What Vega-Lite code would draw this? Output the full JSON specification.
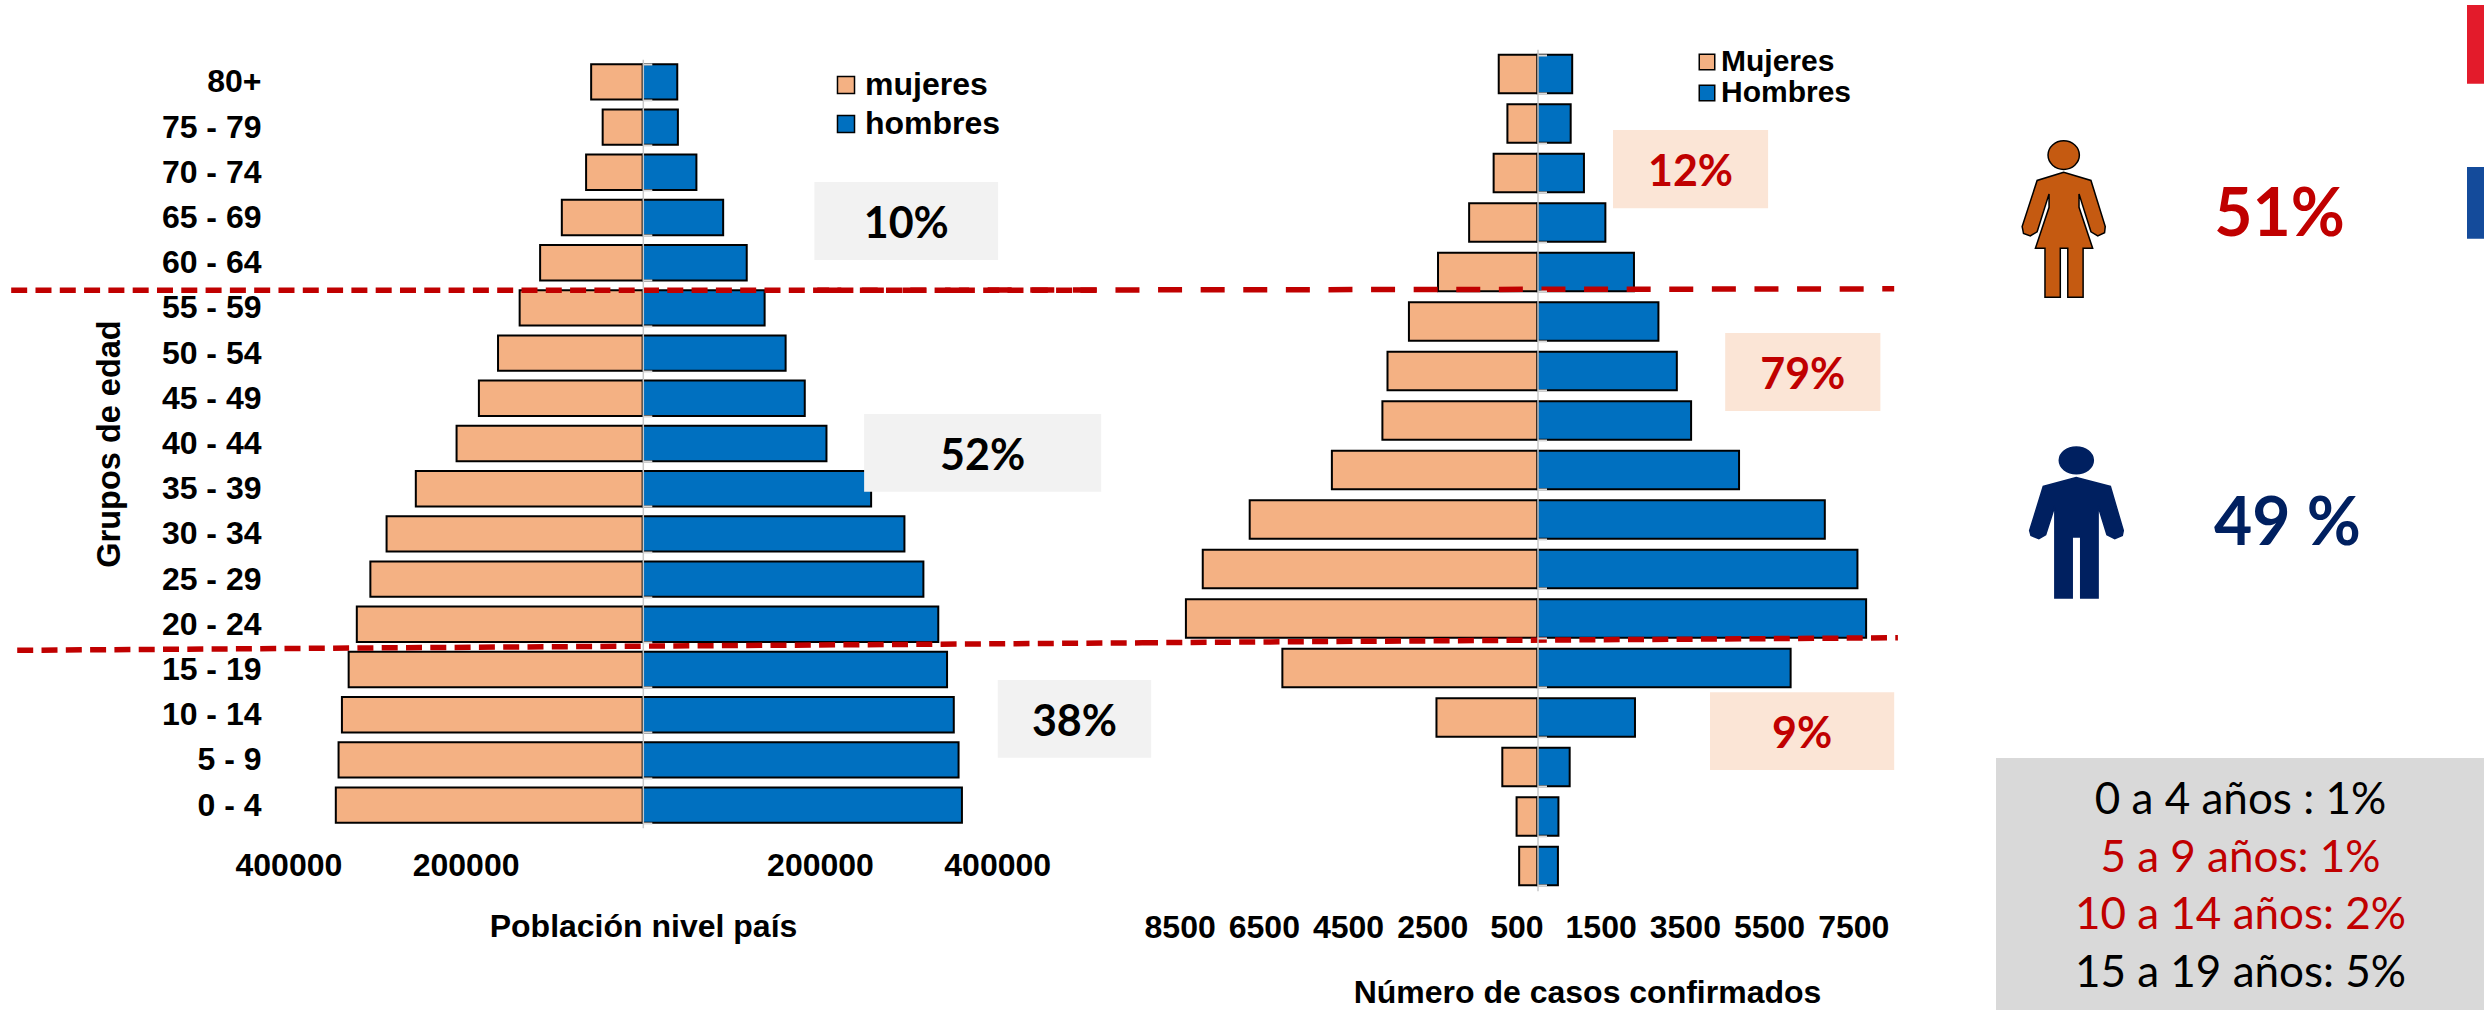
{"$schema":"https://vega.github.io/schema/vega-lite/v6.json","padding":0,"background":"white","bounds":"flush","spacing":0,"config":{"view":{"stroke":null},"axis":{"grid":false}},
"resolve":{"scale":{"color":"independent","fill":"independent","stroke":"independent","shape":"independent"},"legend":{"color":"independent"}},
"datasets":{
"poblacion":[
{"grupo":"80+","sexo":"mujeres","valor":-58300},{"grupo":"80+","sexo":"hombres","valor":38900},
{"grupo":"75 - 79","sexo":"mujeres","valor":-45300},{"grupo":"75 - 79","sexo":"hombres","valor":39600},
{"grupo":"70 - 74","sexo":"mujeres","valor":-64000},{"grupo":"70 - 74","sexo":"hombres","valor":60500},
{"grupo":"65 - 69","sexo":"mujeres","valor":-91400},{"grupo":"65 - 69","sexo":"hombres","valor":90700},
{"grupo":"60 - 64","sexo":"mujeres","valor":-115900},{"grupo":"60 - 64","sexo":"hombres","valor":117300},
{"grupo":"55 - 59","sexo":"mujeres","valor":-139000},{"grupo":"55 - 59","sexo":"hombres","valor":137500},
{"grupo":"50 - 54","sexo":"mujeres","valor":-163400},{"grupo":"50 - 54","sexo":"hombres","valor":161200},
{"grupo":"45 - 49","sexo":"mujeres","valor":-185000},{"grupo":"45 - 49","sexo":"hombres","valor":182800},
{"grupo":"40 - 44","sexo":"mujeres","valor":-210200},{"grupo":"40 - 44","sexo":"hombres","valor":207300},
{"grupo":"35 - 39","sexo":"mujeres","valor":-256200},{"grupo":"35 - 39","sexo":"hombres","valor":257700},
{"grupo":"30 - 34","sexo":"mujeres","valor":-289200},{"grupo":"30 - 34","sexo":"hombres","valor":295300},
{"grupo":"25 - 29","sexo":"mujeres","valor":-307500},{"grupo":"25 - 29","sexo":"hombres","valor":316700},
{"grupo":"20 - 24","sexo":"mujeres","valor":-322800},{"grupo":"20 - 24","sexo":"hombres","valor":333500},
{"grupo":"15 - 19","sexo":"mujeres","valor":-332000},{"grupo":"15 - 19","sexo":"hombres","valor":343400},
{"grupo":"10 - 14","sexo":"mujeres","valor":-339600},{"grupo":"10 - 14","sexo":"hombres","valor":351000},
{"grupo":"5 - 9","sexo":"mujeres","valor":-343400},{"grupo":"5 - 9","sexo":"hombres","valor":356400},
{"grupo":"0 - 4","sexo":"mujeres","valor":-346500},{"grupo":"0 - 4","sexo":"hombres","valor":360200}],
"casos":[
{"grupo":"80+","sexo":"Mujeres","valor":-921},{"grupo":"80+","sexo":"Hombres","valor":824},
{"grupo":"75 - 79","sexo":"Mujeres","valor":-715},{"grupo":"75 - 79","sexo":"Hombres","valor":788},
{"grupo":"70 - 74","sexo":"Mujeres","valor":-1042},{"grupo":"70 - 74","sexo":"Hombres","valor":1103},
{"grupo":"65 - 69","sexo":"Mujeres","valor":-1624},{"grupo":"65 - 69","sexo":"Hombres","valor":1612},
{"grupo":"60 - 64","sexo":"Mujeres","valor":-2363},{"grupo":"60 - 64","sexo":"Hombres","valor":2291},
{"grupo":"55 - 59","sexo":"Mujeres","valor":-3054},{"grupo":"55 - 59","sexo":"Hombres","valor":2872},
{"grupo":"50 - 54","sexo":"Mujeres","valor":-3563},{"grupo":"50 - 54","sexo":"Hombres","valor":3309},
{"grupo":"45 - 49","sexo":"Mujeres","valor":-3684},{"grupo":"45 - 49","sexo":"Hombres","valor":3648},
{"grupo":"40 - 44","sexo":"Mujeres","valor":-4884},{"grupo":"40 - 44","sexo":"Hombres","valor":4787},
{"grupo":"35 - 39","sexo":"Mujeres","valor":-6836},{"grupo":"35 - 39","sexo":"Hombres","valor":6824},
{"grupo":"30 - 34","sexo":"Mujeres","valor":-7951},{"grupo":"30 - 34","sexo":"Hombres","valor":7599},
{"grupo":"25 - 29","sexo":"Mujeres","valor":-8351},{"grupo":"25 - 29","sexo":"Hombres","valor":7805},
{"grupo":"20 - 24","sexo":"Mujeres","valor":-6060},{"grupo":"20 - 24","sexo":"Hombres","valor":6012},
{"grupo":"15 - 19","sexo":"Mujeres","valor":-2400},{"grupo":"15 - 19","sexo":"Hombres","valor":2315},
{"grupo":"10 - 14","sexo":"Mujeres","valor":-836},{"grupo":"10 - 14","sexo":"Hombres","valor":764},
{"grupo":"5 - 9","sexo":"Mujeres","valor":-497},{"grupo":"5 - 9","sexo":"Hombres","valor":497},
{"grupo":"0 - 4","sexo":"Mujeres","valor":-436},{"grupo":"0 - 4","sexo":"Hombres","valor":485}]
},
"hconcat":[
{"width":1138,"height":827.7,"resolve":{"scale":{"y":"independent"}},"layer":[
{"data":{"name":"poblacion"},"mark":{"type":"bar","stroke":"black","strokeWidth":2},"encoding":{
"x":{"field":"valor","type":"quantitative","stack":null,"scale":{"domain":[-721010,563440],"nice":false,"zero":false},"title":"Población nivel país","axis":{"values":[-400000,-200000,200000,400000],"labelExpr":"abs(datum.value)","domain":false,"ticks":false,"labelPadding":23,"labelFont":"Liberation Sans","labelFontWeight":"bold","labelFontSize":32,"labelColor":"black","labelOverlap":false,"labelBound":false,"labelFlush":false,"titleFont":"Liberation Sans","titleFontWeight":"bold","titleFontSize":32,"titleColor":"black","titlePadding":30,"titleX":639}},
"y":{"field":"grupo","type":"nominal","scale":{"domain":["80+","75 - 79","70 - 74","65 - 69","60 - 64","55 - 59","50 - 54","45 - 49","40 - 44","35 - 39","30 - 34","25 - 29","20 - 24","15 - 19","10 - 14","5 - 9","0 - 4"],"range":[59.3,827.7],"paddingInner":0.217,"paddingOuter":0.1085},"title":"Grupos de edad","axis":{"offset":-263,"domain":false,"ticks":false,"labelPadding":6,"labelOffset":0.5,"labelFont":"Liberation Sans","labelFontWeight":"bold","labelFontSize":32,"labelColor":"black","labelOverlap":false,"labelBound":false,"titleFont":"Liberation Sans","titleFontWeight":"bold","titleFontSize":32.5,"titleColor":"black","titlePadding":35}},
"color":{"field":"sexo","type":"nominal","scale":{"domain":["mujeres","hombres"],"range":["#f4b183","#0070c0"]},"legend":{"title":null,"orient":"none","legendX":826,"legendY":69,"symbolType":"square","symbolSize":290,"symbolStrokeColor":"black","symbolStrokeWidth":1.5,"symbolOpacity":1,"labelFont":"Liberation Sans","labelFontWeight":"bold","labelFontSize":32,"labelColor":"black","labelOffset":3,"rowPadding":7}}}},
{"data":{"name":"poblacion"},"mark":{"type":"bar","opacity":0},"encoding":{
"x":{"field":"valor","type":"quantitative","stack":null,"scale":{"domain":[-721010,563440],"nice":false,"zero":false}},
"y":{"field":"grupo","type":"nominal","scale":{"domain":["80+","75 - 79","70 - 74","65 - 69","60 - 64","55 - 59","50 - 54","45 - 49","40 - 44","35 - 39","30 - 34","25 - 29","20 - 24","15 - 19","10 - 14","5 - 9","0 - 4"],"range":[59.3,827.7],"paddingInner":0.217,"paddingOuter":0.1085},"title":null,"axis":{"orient":"right","offset":-499.2,"labels":false,"tickBand":"extent","tickColor":"#d9d9d9","tickSize":9,"tickWidth":2,"domainColor":"#c8c8c8","domainWidth":1.5,"zindex":1}}}},
{"data":{"values":[{"etiqueta":"10%","x0":193700,"x1":401000,"y0":14.285,"y1":12.56,"xc":297350,"yc":13.42},{"etiqueta":"52%","x0":249800,"x1":517400,"y0":9.155,"y1":7.43,"xc":383600,"yc":8.29},{"etiqueta":"38%","x0":400600,"x1":573800,"y0":3.27,"y1":1.55,"xc":487200,"yc":2.41}]},
"layer":[
{"mark":{"type":"rect","fill":"#f2f2f2"},"encoding":{"x":{"field":"x0","type":"quantitative","scale":{"domain":[-721010,563440],"nice":false,"zero":false}},"x2":{"field":"x1"},"y":{"field":"y0","type":"quantitative","scale":{"domain":[0,17],"range":[827.7,59.3],"nice":false,"zero":false},"axis":null},"y2":{"field":"y1"}}},
{"mark":{"type":"text","font":"Lato","fontWeight":"bold","fontSize":43,"color":"black","baseline":"middle","dy":4},"encoding":{"x":{"field":"xc","type":"quantitative","scale":{"domain":[-721010,563440],"nice":false,"zero":false}},"y":{"field":"yc","type":"quantitative","scale":{"domain":[0,17],"range":[827.7,59.3],"nice":false,"zero":false},"axis":null},"text":{"field":"etiqueta"}}}
],"resolve":{"scale":{"y":"shared"}}},
{"data":{"values":[{"linea":"superior","xl":-712900,"yl":11.89},{"linea":"superior","xl":515100,"yl":11.89},{"linea":"inferior","xl":-706100,"yl":3.925},{"linea":"inferior","xl":563440,"yl":4.09}]},
"mark":{"type":"line","color":"#c00000","strokeWidth":5.5,"strokeDash":[16,8.3]},"encoding":{"x":{"field":"xl","type":"quantitative","scale":{"domain":[-721010,563440],"nice":false,"zero":false}},"y":{"field":"yl","type":"quantitative","scale":{"domain":[0,17],"range":[827.7,59.3],"nice":false,"zero":false},"axis":null},"detail":{"field":"linea"}}}
]},
{"width":810,"height":890.7,"resolve":{"scale":{"y":"independent"}},"layer":[
{"data":{"name":"casos"},"mark":{"type":"bar","stroke":"black","strokeWidth":2},"encoding":{
"x":{"field":"valor","type":"quantitative","stack":null,"scale":{"domain":[-9394,9845],"nice":false,"zero":false},"title":"Número de casos confirmados","axis":{"values":[-8500,-6500,-4500,-2500,-500,1500,3500,5500,7500],"labelExpr":"abs(datum.value)","domain":false,"ticks":false,"labelPadding":21.5,"labelFont":"Liberation Sans","labelFontWeight":"bold","labelFontSize":32,"labelColor":"black","labelOverlap":false,"labelBound":false,"labelFlush":false,"titleFont":"Liberation Sans","titleFontWeight":"bold","titleFontSize":32,"titleColor":"black","titlePadding":34.5,"titleX":445}},
"y":{"field":"grupo","type":"nominal","scale":{"domain":["80+","75 - 79","70 - 74","65 - 69","60 - 64","55 - 59","50 - 54","45 - 49","40 - 44","35 - 39","30 - 34","25 - 29","20 - 24","15 - 19","10 - 14","5 - 9","0 - 4"],"range":[49.3,890.7],"paddingInner":0.22,"paddingOuter":0.11},"title":null,"axis":null},
"color":{"field":"sexo","type":"nominal","scale":{"domain":["Mujeres","Hombres"],"range":["#f4b183","#0070c0"]},"legend":{"title":null,"orient":"none","legendX":550,"legendY":47,"symbolType":"square","symbolSize":240,"symbolStrokeColor":"black","symbolStrokeWidth":1.5,"symbolOpacity":1,"labelFont":"Liberation Sans","labelFontWeight":"bold","labelFontSize":30,"labelColor":"black","labelOffset":-1,"rowPadding":1}}}},
{"data":{"name":"casos"},"mark":{"type":"bar","opacity":0},"encoding":{
"x":{"field":"valor","type":"quantitative","stack":null,"scale":{"domain":[-9394,9845],"nice":false,"zero":false}},
"y":{"field":"grupo","type":"nominal","scale":{"domain":["80+","75 - 79","70 - 74","65 - 69","60 - 64","55 - 59","50 - 54","45 - 49","40 - 44","35 - 39","30 - 34","25 - 29","20 - 24","15 - 19","10 - 14","5 - 9","0 - 4"],"range":[49.3,890.7],"paddingInner":0.22,"paddingOuter":0.11},"title":null,"axis":{"orient":"right","offset":-414.5,"labels":false,"tickBand":"extent","tickColor":"#d9d9d9","tickSize":9,"tickWidth":2,"domainColor":"#c8c8c8","domainWidth":1.5,"zindex":1}}}},
{"data":{"values":[{"etiqueta":"12%","x0":1793,"x1":5477,"y0":15.37,"y1":13.79,"xc":3635,"yc":14.58},{"etiqueta":"79%","x0":4458,"x1":8144,"y0":11.27,"y1":9.69,"xc":6301,"yc":10.48},{"etiqueta":"9%","x0":4097,"x1":8472,"y0":4.01,"y1":2.44,"xc":6285,"yc":3.225}]},
"layer":[
{"mark":{"type":"rect","fill":"#fbe5d6"},"encoding":{"x":{"field":"x0","type":"quantitative","scale":{"domain":[-9394,9845],"nice":false,"zero":false}},"x2":{"field":"x1"},"y":{"field":"y0","type":"quantitative","scale":{"domain":[0,17],"range":[890.7,49.3],"nice":false,"zero":false},"axis":null},"y2":{"field":"y1"}}},
{"mark":{"type":"text","font":"Lato","fontWeight":"bold","fontSize":43,"color":"#c00000","baseline":"middle","dy":4},"encoding":{"x":{"field":"xc","type":"quantitative","scale":{"domain":[-9394,9845],"nice":false,"zero":false}},"y":{"field":"yc","type":"quantitative","scale":{"domain":[0,17],"range":[890.7,49.3],"nice":false,"zero":false},"axis":null},"text":{"field":"etiqueta"}}}
],"resolve":{"scale":{"y":"shared"}}},
{"data":{"values":[{"linea":"superior","xl":-17107,"yl":12.13},{"linea":"superior","xl":8472,"yl":12.16}]},
"mark":{"type":"line","color":"#c00000","strokeWidth":5.5,"strokeDash":[24,18.6]},"encoding":{"x":{"field":"xl","type":"quantitative","scale":{"domain":[-9394,9845],"nice":false,"zero":false}},"y":{"field":"yl","type":"quantitative","scale":{"domain":[0,17],"range":[890.7,49.3],"nice":false,"zero":false},"axis":null}}},
{"data":{"values":[{"linea":"inferior","xl":-9394,"yl":5.01},{"linea":"inferior","xl":8560,"yl":5.11}]},
"mark":{"type":"line","color":"#c00000","strokeWidth":5.5,"strokeDash":[16,8.3]},"encoding":{"x":{"field":"xl","type":"quantitative","scale":{"domain":[-9394,9845],"nice":false,"zero":false}},"y":{"field":"yl","type":"quantitative","scale":{"domain":[0,17],"range":[890.7,49.3],"nice":false,"zero":false},"axis":null}}}
]},
{"width":536,"height":1010,"resolve":{"scale":{"x":"independent","y":"independent","color":"independent","fill":"independent","stroke":"independent","shape":"independent"}},"layer":[
{"data":{"values":[{"franja":"roja","desde":0,"hasta":33.7,"xa":0,"xb":1},{"franja":"azul","desde":69.3,"hasta":100,"xa":0,"xb":1}]},"mark":{"type":"rect"},"encoding":{
"x":{"field":"xa","type":"quantitative","scale":{"domain":[0,1],"range":[515,536]},"axis":null},"x2":{"field":"xb"},
"y":{"field":"desde","type":"quantitative","scale":{"domain":[0,100],"range":[5,238.8],"nice":false,"zero":false},"axis":null},"y2":{"field":"hasta"},
"fill":{"field":"franja","type":"nominal","scale":{"domain":["roja","azul"],"range":["#e31b2b","#144b9b"]},"legend":null}}},
{"data":{"values":[{"figura":"Mujeres"},{"figura":"Hombres"}]},"mark":{"type":"point","filled":true,"opacity":1,"size":101124,"strokeWidth":1.5},"encoding":{
"x":{"field":"figura","type":"nominal","scale":{"type":"point","domain":["Mujeres","Hombres"],"range":[111.7,124.3],"padding":0},"axis":null},
"y":{"field":"figura","type":"nominal","scale":{"type":"point","domain":["Mujeres","Hombres"],"range":[219.6,522.4],"padding":0},"axis":null},
"shape":{"field":"figura","type":"nominal","scale":{"domain":["Mujeres","Hombres"],"range":[
"M-.0985,-.4056A.0985,.0898 0 1 0 .0985,-.4056A.0985,.0898 0 1 0 -.0985,-.4056ZM0,-.2978L-.1671,-.2464L-.2613,.0436L-.2528,.0873L-.2099,.1027L-.1671,.077L-.0921,-.1617L-.0921,-.077L-.1778,.1797L-.1178,.1797L-.1178,.4877L-.0214,.4877L-.0214,.1797L.0257,.1797L.0257,.4877L.1221,.4877L.1221,.1797L.1821,.1797L.0964,-.077L.0964,-.1617L.1714,.077L.2142,.1027L.257,.0821L.2613,.0436L.1714,-.2464Z",
"M-.1071,-.3902A.1071,.0847 0 1 0 .1071,-.3902A.1071,.0847 0 1 0 -.1071,-.3902ZM0,-.2824L-.2078,-.2259L-.2934,.0513L-.2849,.0821L-.2356,.1027L-.1928,.077L-.1349,-.1027L-.1349,.4749L-.0257,.4749L-.0257,.0924L.0278,.0924L.0278,.4749L.1371,.4749L.1371,-.1027L.1928,.077L.242,.1027L.2892,.0821L.2956,.0513L.2142,-.2259Z"]},"legend":null},
"fill":{"field":"figura","type":"nominal","scale":{"domain":["Mujeres","Hombres"],"range":["#c55a11","#002060"]},"legend":null},
"stroke":{"field":"figura","type":"nominal","scale":{"domain":["Mujeres","Hombres"],"range":["#000000","#002060"]},"legend":null}}},
{"data":{"values":[{"porcentaje":"51%"},{"porcentaje":"49 %"}]},"mark":{"type":"text","font":"Lato","fontWeight":"bold","fontSize":66,"baseline":"middle","dy":5},"encoding":{
"x":{"field":"porcentaje","type":"nominal","scale":{"type":"point","domain":["51%","49 %"],"range":[327.5,335.4],"padding":0},"axis":null},
"y":{"field":"porcentaje","type":"nominal","scale":{"type":"point","domain":["51%","49 %"],"range":[211,519.6],"padding":0},"axis":null},
"text":{"field":"porcentaje"},
"color":{"field":"porcentaje","type":"nominal","scale":{"domain":["51%","49 %"],"range":["#c00000","#002060"]},"legend":null}}},
{"data":{"values":[{"caja":"edades","xa":0,"xb":1,"ya":0,"yb":1}]},"mark":{"type":"rect","fill":"#d9d9d9"},"encoding":{
"x":{"field":"xa","type":"quantitative","scale":{"domain":[0,1],"range":[44,536]},"axis":null},"x2":{"field":"xb"},
"y":{"field":"ya","type":"quantitative","scale":{"domain":[0,1],"range":[758,1010],"nice":false,"zero":false},"axis":null},"y2":{"field":"yb"}}},
{"data":{"values":[{"texto":"0 a 4 años : 1%","tono":"negro"},{"texto":"5 a 9 años: 1%","tono":"rojo"},{"texto":"10 a 14 años: 2%","tono":"rojo"},{"texto":"15 a 19 años: 5%","tono":"negro"}]},"mark":{"type":"text","font":"Lato","fontSize":44,"baseline":"middle","dy":3},"encoding":{
"x":{"datum":0.5,"type":"quantitative","scale":{"domain":[0,1],"range":[43,534]},"axis":null},
"y":{"field":"texto","type":"nominal","scale":{"type":"point","domain":["0 a 4 años : 1%","5 a 9 años: 1%","10 a 14 años: 2%","15 a 19 años: 5%"],"range":[798.3,970.7],"padding":0},"axis":null},
"text":{"field":"texto"},
"color":{"field":"tono","type":"nominal","scale":{"domain":["negro","rojo"],"range":["#000000","#c00000"]},"legend":null}}}
]}
]}
